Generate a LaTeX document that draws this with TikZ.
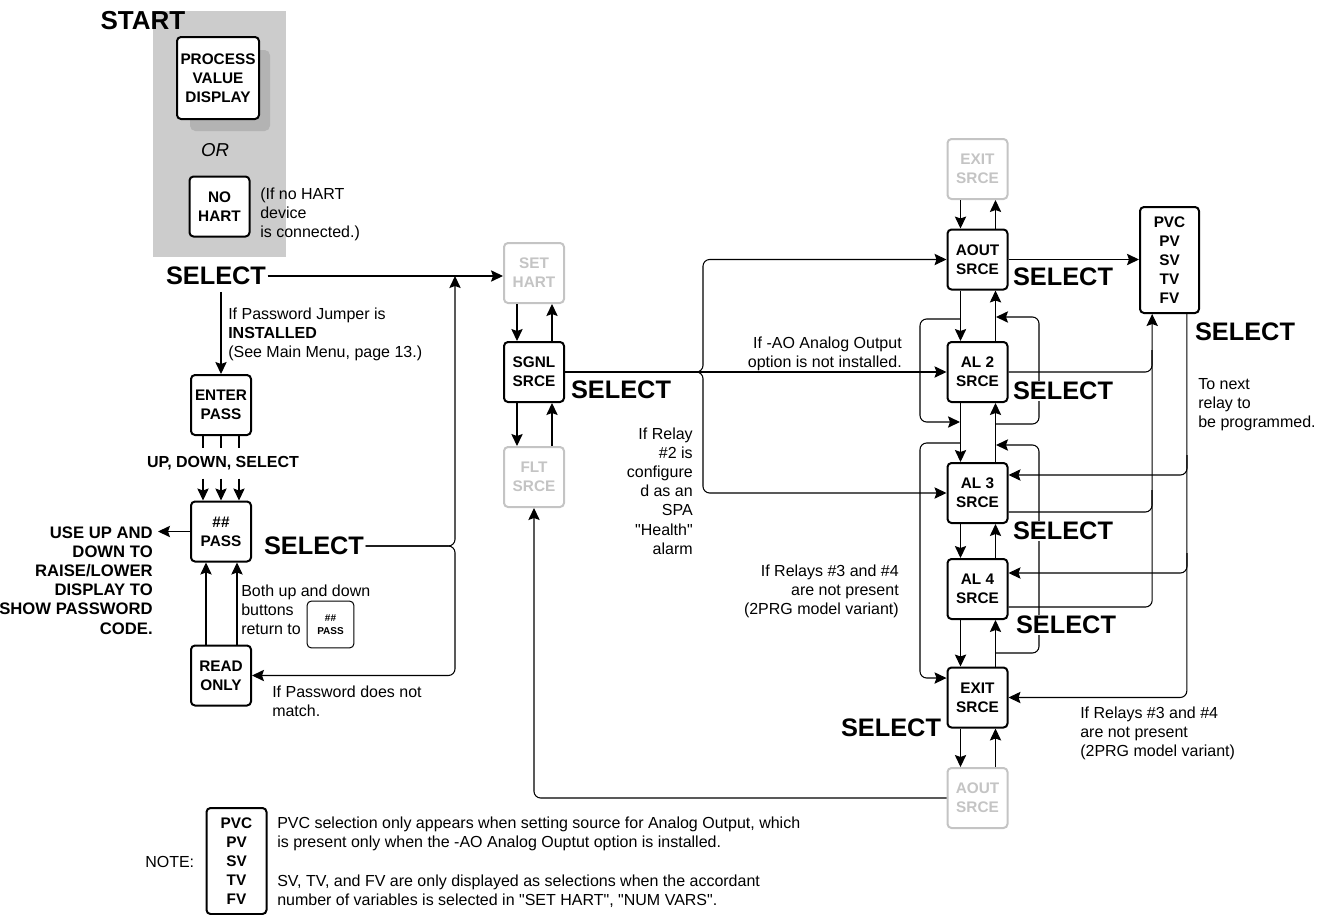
\documentclass[tikz,border=0pt]{standalone}
\usepackage{fontspec}
\setmainfont{Liberation Sans}
\usetikzlibrary{arrows.meta}
\definecolor{panelgrey}{HTML}{CCCCCC}
\definecolor{shadowgrey}{HTML}{B3B3B3}
\definecolor{fadedgrey}{HTML}{C4C4C4}

\begin{document}
\begin{tikzpicture}[x=0.75pt,y=-0.75pt]
\tikzstyle{menubox}=[draw,line width=1.5pt,rounded corners=3pt,fill=white,minimum width=45pt,minimum height=45pt,inner sep=0pt,align=center,font=\fontsize{11.5}{14.25}\selectfont\bfseries];
\tikzstyle{greybox}=[menubox,draw=fadedgrey,text=fadedgrey];
\tikzstyle{sel}=[fill=white,inner sep=1pt,font=\fontsize{19}{22}\selectfont\bfseries];
\tikzstyle{remark}=[inner sep=0pt,font=\fontsize{12}{14.4}\selectfont];
\tikzstyle{wire}=[line width=0.8pt];
\tikzstyle{arr}=[wire,-{Stealth[length=9pt,width=8.5pt,inset=1.5pt]}];
\useasboundingbox (0,0) rectangle (1317,914);

\fill[panelgrey] (153,11) rectangle (286,257);
\fill[shadowgrey,rounded corners=4pt] (190,50) rectangle (270,131);
\node[menubox,minimum width=61.5pt,minimum height=61.5pt] (pvd) at (218,78) {PROCESS\\VALUE\\DISPLAY};
\node[font=\fontsize{19.5}{22}\selectfont\bfseries,inner sep=0pt] (start) at (143,21) {START};
\node[font=\fontsize{14}{16}\selectfont\itshape,inner sep=0pt] (or) at (215,150) {OR};
\node[menubox] (nohart) at (219.5,206.5) {NO\\HART};
\node[remark,anchor=base west,align=left] (nohartnote) at (260,237.4) {(If no HART\\device\\is connected.)};

\node[menubox] (enter) at (221,405) {ENTER\\PASS};
\node[menubox] (pass) at (221,531.5) {\#\#\\PASS};
\node[menubox] (readonly) at (221,675.5) {READ\\ONLY};
\node[menubox,line width=0.75pt,minimum width=35pt,minimum height=35pt,font=\fontsize{7.5}{9.75}\selectfont\bfseries] (minipass) at (330.5,624.5) {\#\#\\PASS};

\node[greybox] (sethart) at (534,273) {SET\\HART};
\node[menubox] (sgnl) at (534,372) {SGNL\\SRCE};
\node[greybox] (flt) at (534,477) {FLT\\SRCE};

\node[greybox] (exittop) at (977.5,169) {EXIT\\SRCE};
\node[menubox] (aout) at (977.5,259.5) {AOUT\\SRCE};
\node[menubox] (al2) at (977.5,372) {AL 2\\SRCE};
\node[menubox] (al3) at (977.5,493) {AL 3\\SRCE};
\node[menubox] (al4) at (977.5,589) {AL 4\\SRCE};
\node[menubox] (exit) at (977.5,697.5) {EXIT\\SRCE};
\node[greybox] (aoutbot) at (977.5,798) {AOUT\\SRCE};
\node[menubox,minimum width=44.25pt,minimum height=79.5pt] (pvc) at (1169.5,260) {PVC\\PV\\SV\\TV\\FV};

\foreach \a/\b in {sethart/sgnl,sgnl/flt,exittop/aout,aout/al2,al2/al3,al3/al4,al4/exit,exit/aoutbot}{
  \draw[arr] ([xshift=-12.75pt]\a.south) -- ([xshift=-12.75pt]\b.north);
  \draw[arr] ([xshift=13.5pt]\b.north) -- ([xshift=13.5pt]\a.south);
}

\draw[arr,rounded corners=5pt] (960,319) -- (920,319) -- (920,422) -- (960,422);
\draw[arr,rounded corners=5pt] (996,424) -- (1039,424) -- (1039,317) -- (996,317);
\draw[arr,rounded corners=5pt] (960,443) -- (920,443) -- (920,678) -- ([yshift=14.6pt]exit.west);
\draw[arr,rounded corners=5pt] (996,653) -- (1039,653) -- (1039,445) -- (996,445);

\draw[arr] (aout.east) -- (aout.east -| pvc.west);
\draw[arr,rounded corners=5pt] ([yshift=-13.5pt]al4.east) -| ([xshift=-13pt]pvc.south);
\draw[wire,rounded corners=5pt] (al2.east) -- (1152,372) -- (1152,350);
\draw[wire,rounded corners=5pt] ([yshift=-14.25pt]al3.east) -- (1152,512) -- (1152,490);
\draw[arr,rounded corners=5pt] ([xshift=13pt]pvc.south) |- (exit.east);
\draw[arr,rounded corners=5pt] (1187,455) -- (1187,475) -- ([yshift=13.5pt]al3.east);
\draw[arr,rounded corners=5pt] (1187,553) -- (1187,573) -- ([yshift=12pt]al4.east);

\draw[arr] (sgnl.east) -- (al2.west);
\draw[arr,rounded corners=5pt] (sgnl.east) -- (703,372) |- (aout.west);
\draw[arr,rounded corners=5pt] (sgnl.east) -- (703,372) |- (al3.west);
\draw[arr,rounded corners=5pt] (aoutbot.west) -| (flt.south);

\node[sel] (selstart) at (216,276) {SELECT};
\node[sel] (selpass) at (314,546) {SELECT};
\node[sel] (selsgnl) at (621,390) {SELECT};
\node[sel] (selaout) at (1063,277) {SELECT};
\node[sel] (selpvc) at (1245,332) {SELECT};
\node[sel] (selaltwo) at (1063,391) {SELECT};
\node[sel] (selalthree) at (1063,531) {SELECT};
\node[sel] (selalfour) at (1066,625) {SELECT};
\node[sel] (selexit) at (891,728) {SELECT};

\draw[arr] (selstart.east) -- (selstart.east -| sethart.west);
\draw[arr] ([yshift=-4pt]selstart.south -| enter.north) -- (enter.north);
\foreach \dx in {-13.5pt,0pt,13.5pt}{
  \draw[wire] ([xshift=\dx]enter.south) -- ++(0,12);
  \draw[arr] ([xshift=\dx,yshift=16.5pt]pass.north) -- ([xshift=\dx]pass.north);
}
\draw[arr] (pass.west) -- ++(-32,0);
\draw[arr] ([xshift=-11.25pt]readonly.north) -- ([xshift=-11.25pt]pass.south);
\draw[arr] ([xshift=12pt]readonly.north) -- ([xshift=12pt]pass.south);
\coordinate (fork) at (455,546);
\draw[arr,rounded corners=5pt] (selpass.east) -- (fork) -- (fork |- selstart.east);
\draw[arr,rounded corners=5pt] (selpass.east) -- (fork) |- (readonly.east);

\node[remark,anchor=base west,align=left] (jumper) at (228,357.4) {If Password Jumper is\\\textbf{INSTALLED}\\(See Main Menu, page 13.)};
\node[remark,font=\fontsize{12}{14.4}\selectfont\bfseries] (keys) at (223,463) {UP, DOWN, SELECT};
\node[remark,anchor=base east,align=right,font=\fontsize{12.5}{14.4}\selectfont\bfseries] (useup) at (153,634) {USE UP AND\\DOWN TO\\RAISE/LOWER\\DISPLAY TO\\SHOW PASSWORD\\CODE.};
\node[remark,anchor=base west,align=left] (bothup) at (241,634.4) {Both up and down\\buttons\\return to};
\node[remark,anchor=base west,align=left] (nomatch) at (272,716.2) {If Password does not\\match.};
\node[remark,anchor=base east,align=right] (noao) at (902,367.2) {If -AO Analog Output\\option is not installed.};
\node[remark,anchor=base east,align=right] (relaytwo) at (693,554.2) {If Relay\\\#2 is\\configure\\d as an\\SPA\\\textquotedbl Health\textquotedbl\\alarm};
\node[remark,anchor=base east,align=right] (norelays) at (899,614.4) {If Relays \#3 and \#4\\are not present\\(2PRG model variant)};
\node[remark,anchor=base west,align=left] (nextrelay) at (1198,427.4) {To next\\relay to\\be programmed.};
\node[remark,anchor=base west,align=left] (norelaysb) at (1080,756.4) {If Relays \#3 and \#4\\are not present\\(2PRG model variant)};

\node[remark,anchor=west] (note) at (145,862) {NOTE:};
\node[menubox,minimum width=45pt,minimum height=79.5pt] (notebox) at (236.5,861) {PVC\\PV\\SV\\TV\\FV};
\node[remark,anchor=base west,align=left] (notea) at (277,847.2) {PVC selection only appears when setting source for Analog Output, which\\is present only when the -AO Analog Ouptut option is installed.};
\node[remark,anchor=base west,align=left] (noteb) at (277,905.2) {SV, TV, and FV are only displayed as selections when the accordant\\number of variables is selected in \textquotedbl SET HART\textquotedbl, \textquotedbl NUM VARS\textquotedbl.};
\end{tikzpicture}
\end{document}
